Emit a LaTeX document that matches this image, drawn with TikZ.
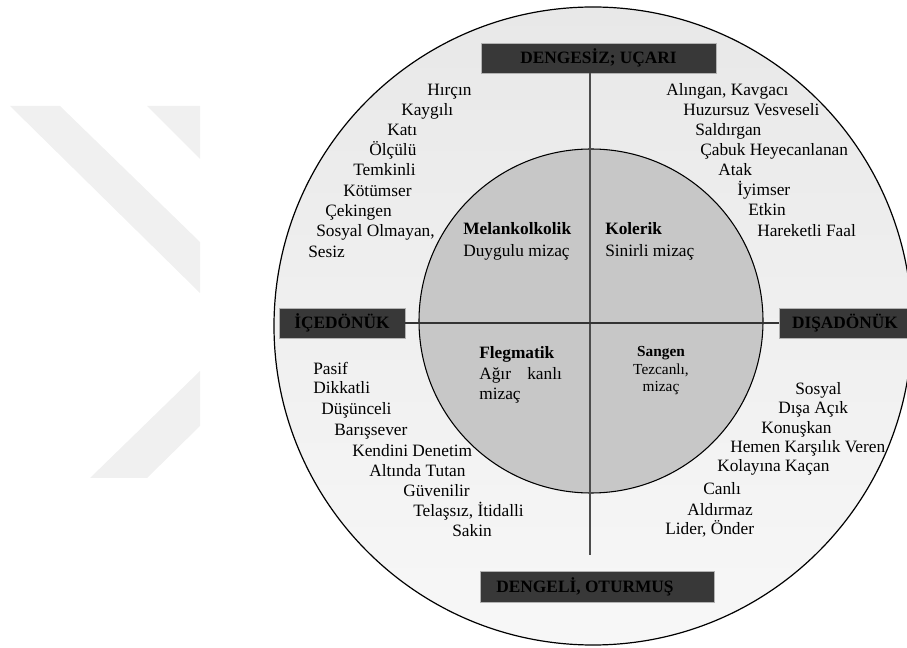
\documentclass[tikz,border=0pt]{standalone}
\usepackage{fontspec}
\setmainfont{Liberation Serif}

\begin{document}
\begin{tikzpicture}[x=0.75pt, y=-0.75pt,
  trait/.style={anchor=base west, inner sep=0pt, font=\fontsize{13}{15}\selectfont},
  small/.style={anchor=base, inner sep=0pt, font=\fontsize{11.5}{14}\selectfont},
  axisbox/.style={rectangle, draw=black!30, line width=0.6pt, fill=black!78,
    minimum height=22.5pt, inner sep=0pt, font=\fontsize{13}{15}\selectfont\bfseries},
  axisline/.style={draw=black!70, line width=1.5pt},
  wmark/.style={fill=black!6, draw=none}]
\useasboundingbox (0,0) rectangle (907,648);
% watermark
\fill[wmark] (10,106) -- (60,106) -- (200,242) -- (200,293) -- cycle;
\fill[wmark] (147,106) -- (200,106) -- (200,159) -- cycle;
\fill[wmark] (200,371) -- (200,426) -- (147,478) -- (90,478) -- cycle;
% circles
\node (outer) at (593,326) [shape=circle, draw, line width=0.9pt, top color=black!9, bottom color=black!3, minimum size=478.5pt] {};
\node (inner) at (591,321) [shape=circle, draw, line width=0.8pt, fill=black!22, minimum size=258pt] {};
% axis boxes
\node (dengesiz)  at (598.5,58)  [axisbox, minimum width=176.25pt] {DENGESİZ; UÇARI};
\node (dengeli)   at (597,586.5) [axisbox, minimum width=175.5pt, minimum height=23.25pt] {DENGELİ, OTURMUŞ\hspace*{18pt}};
\node (icedonuk)  at (342,323)   [axisbox, minimum width=94.5pt] {İÇEDÖNÜK};
\node (disadonuk) at (845,323)   [axisbox, minimum width=99pt] {DIŞADÖNÜK};
\coordinate (vend) at (590,555);
\draw [axisline] (vend |- dengesiz.south) -- (vend);
\draw [draw=black!80, line width=0.9pt] (icedonuk.east) -- (disadonuk.west);
% temperaments
\node (melan)  at (463,235) [trait] {\bfseries Melankolkolik};
\node (melan2) at (463,257) [trait] {Duygulu mizaç};
\node (koler)  at (605,235) [trait] {\bfseries Kolerik};
\node (koler2) at (605,257) [trait] {Sinirli mizaç};
\node (flegm)  at (479,359) [trait] {\bfseries Flegmatik};
\node (flegm2) at (479,380) [trait] {\hbox to 62pt{Ağır\hfill kanlı}};
\node (flegm3) at (479,400) [trait] {mizaç};
\node (sang)   at (661,357) [small] {\bfseries Sangen};
\node (sang2)  at (661,375) [small] {Tezcanlı,};
\node (sang3)  at (661,392) [small] {mizaç};
% upper left
\node (ul1) at (427,96)  [trait] {Hırçın};
\node (ul2) at (401,116) [trait] {Kaygılı};
\node (ul3) at (387,136) [trait] {Katı};
\node (ul4) at (369,156) [trait] {Ölçülü};
\node (ul5) at (353,176) [trait] {Temkinli};
\node (ul6) at (343,197) [trait] {Kötümser};
\node (ul7) at (325,217) [trait] {Çekingen};
\node (ul8) at (316,237) [trait] {Sosyal Olmayan,};
\node (ul9) at (308,258) [trait] {Sesiz};
% upper right
\node (ur1) at (666,96)  [trait] {Alıngan, Kavgacı};
\node (ur2) at (683,116) [trait] {Huzursuz Vesveseli};
\node (ur3) at (695,136) [trait] {Saldırgan};
\node (ur4) at (700,156) [trait] {Çabuk Heyecanlanan};
\node (ur5) at (718,176) [trait] {Atak};
\node (ur6) at (737,196) [trait] {İyimser};
\node (ur7) at (748,216) [trait] {Etkin};
\node (ur8) at (757,237) [trait] {Hareketli Faal};
% lower left
\node (ll1) at (313,375) [trait] {Pasif};
\node (ll2) at (313,394) [trait] {Dikkatli};
\node (ll3) at (321,415) [trait] {Düşünceli};
\node (ll4) at (334,436) [trait] {Barışsever};
\node (ll5) at (352,456) [trait] {Kendini Denetim};
\node (ll6) at (369,477) [trait] {Altında Tutan};
\node (ll7) at (403,496) [trait] {Güvenilir};
\node (ll8) at (413,516) [trait] {Telaşsız, İtidalli};
\node (ll9) at (452,536) [trait] {Sakin};
% lower right
\node (lr1) at (795,395) [trait] {Sosyal};
\node (lr2) at (778,414) [trait] {Dışa Açık};
\node (lr3) at (761,434) [trait] {Konuşkan};
\node (lr4) at (730,453) [trait] {Hemen Karşılık Veren};
\node (lr5) at (717,472) [trait] {Kolayına Kaçan};
\node (lr6) at (703,494) [trait] {Canlı};
\node (lr7) at (687,515) [trait] {Aldırmaz};
\node (lr8) at (665,534) [trait] {Lider, Önder};
\end{tikzpicture}
\end{document}
